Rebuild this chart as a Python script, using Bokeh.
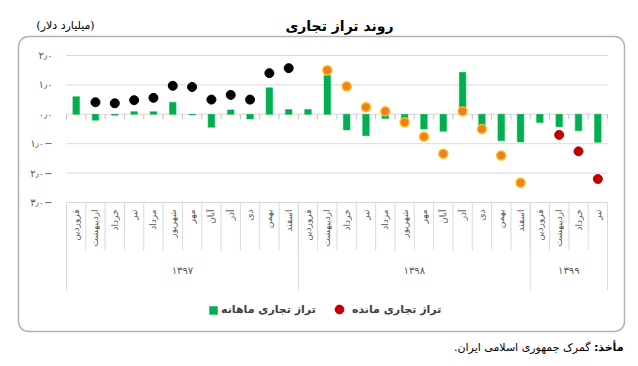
import math
from bokeh.plotting import figure
from bokeh.models import Range1d, BoxAnnotation, Legend, LegendItem
from bokeh.core.properties import value
from bokeh.embed import file_html
from bokeh.resources import INLINE

# ---------------- data ----------------
months = ["فروردین", "اردیبهشت", "خرداد", "تیر", "مرداد", "شهریور",
          "مهر", "آبان", "آذر", "دی", "بهمن", "اسفند"]
years = ["۱۳۹۷", "۱۳۹۸", "۱۳۹۹"]
year_counts = [12, 12, 4]

monthly_balance = [0.60, -0.20, -0.03, 0.09, 0.09, 0.41, -0.02, -0.44, 0.15, -0.16, 0.90, 0.16,
                   0.16, 1.32, -0.53, -0.73, -0.14, -0.20, -0.50, -0.58, 1.43, -0.42, -0.90, -0.94,
                   -0.28, -0.42, -0.56, -0.95]
cum_1397 = [None, 0.41, 0.375, 0.48, 0.56, 0.97, 0.93, 0.50, 0.66, 0.50, 1.40, 1.57]
cum_1398 = [None, 1.50, 0.95, 0.24, 0.10, -0.27, -0.76, -1.34, 0.10, -0.50, -1.40, -2.33]
cum_1399 = [None, -0.70, -1.26, -2.20]

y_ticks = [-3, -2, -1, 0, 1, 2]
y_tick_labels = ["\u200f−۳٫۰", "\u200f−۲٫۰", "\u200f−۱٫۰", "۰٫۰", "۱٫۰", "۲٫۰"]

title_text = "روند تراز تجاری"
unit_text = "(میلیارد دلار)"
legend_monthly = "تراز تجاری ماهانه"
legend_cum = "تراز تجاری مانده"
source_bold = "مأخذ:\u200f"
source_text = "گمرک جمهوری اسلامی ایران.\u200f"

FONT = "DejaVu Sans"
GRID = "#D9D9D9"
TXT = "#595959"

# ---------------- layout helpers (pixel -> data) ----------------
W, H = 638, 366
month_labels = []
for cnt in year_counts:
    month_labels += months[:cnt]
n = len(month_labels)
xs = list(range(1, n + 1))

PX_L, PX_R = 66, 607          # plot region left/right
PX_T, PX_B = 55, 202          # pixel rows of y = 2 and y = -3
ux = (PX_R - PX_L) / n
uy = (PX_B - PX_T) / (max(y_ticks) - min(y_ticks))

def X(px):
    return 0.5 + (px - PX_L) / ux

def Y(py):
    return max(y_ticks) - (py - PX_T) / uy

p = figure(width=W, height=H, output_backend="svg", toolbar_location=None,
           x_range=Range1d(X(0), X(W)), y_range=Range1d(Y(H), Y(0)),
           x_axis_location=None, y_axis_location=None,
           min_border=0, min_border_left=0, min_border_right=0,
           min_border_top=0, min_border_bottom=0)
p.title.visible = False
p.outline_line_color = None
p.xgrid.visible = False
p.ygrid.visible = False
p.background_fill_color = "white"
p.border_fill_color = "white"

# horizontal gridlines
p.segment(x0=[0.5] * len(y_ticks), x1=[n + 0.5] * len(y_ticks), y0=y_ticks, y1=y_ticks,
          line_color=GRID, line_width=1)
# y tick labels
p.text(x=[X(52)] * len(y_ticks), y=y_ticks, text=y_tick_labels, text_align="right",
       text_baseline="middle", text_font=value(FONT), text_font_size="10px", text_color=TXT)

# category boundaries
bounds = [i + 0.5 for i in range(n + 1)]
year_bounds = [0.5]
for cnt in year_counts:
    year_bounds.append(year_bounds[-1] + cnt)

# small ticks under zero line
p.segment(x0=bounds, y0=[0] * len(bounds), x1=bounds, y1=[Y(PX_T + 2 * uy + 5)] * len(bounds),
          line_color="#BFBFBF", line_width=1)
# month separators
p.segment(x0=bounds, y0=[min(y_ticks)] * len(bounds), x1=bounds, y1=[Y(250)] * len(bounds),
          line_color=GRID, line_width=1)
# year separators
p.segment(x0=year_bounds, y0=[min(y_ticks)] * len(year_bounds), x1=year_bounds,
          y1=[Y(290)] * len(year_bounds), line_color=GRID, line_width=1)

# month labels
p.text(x=xs, y=[Y(209)] * n, text=month_labels, angle=math.pi / 2,
       text_align="right", text_baseline="middle", text_font=value(FONT),
       text_font_size="9px", text_color=TXT)
# year labels
centers = [(year_bounds[i] + year_bounds[i + 1]) / 2 for i in range(len(years))]
p.text(x=centers, y=[Y(270)] * len(years), text=years, text_align="center",
       text_baseline="middle", text_font=value(FONT), text_font_size="10px", text_color=TXT)

bars = p.vbar(x=xs, top=monthly_balance, bottom=0, width=0.34,
              fill_color="#00B050", line_color="#00B050", line_alpha=0.5)

def nanify(vals):
    return [float("nan") if v is None else v for v in vals]

x97 = xs[0:12]
x98 = xs[12:24]
x99 = xs[24:28]
p.scatter(x=x97, y=nanify(cum_1397), size=9, fill_color="black", line_color="black")
p.scatter(x=x98, y=nanify(cum_1398), size=9, fill_color="#ED7D31", line_color="#FFC000", line_width=1.5)
red = p.scatter(x=x99, y=nanify(cum_1399), size=9, fill_color="#C00000", line_color="#C00000")

legend_style = dict(orientation="horizontal", border_line_color=None, background_fill_alpha=0,
                    padding=0, margin=0, label_text_font=FONT, label_text_font_size="11px",
                    label_text_font_style="bold", label_text_color="#404040")
legend1 = Legend(items=[LegendItem(label=legend_monthly, renderers=[bars])],
                 location=(208, H - 316), glyph_width=10, glyph_height=10,
                 label_standoff=3, **legend_style)
legend2 = Legend(items=[LegendItem(label=legend_cum, renderers=[red])],
                 location=(328, H - 320), glyph_width=22, glyph_height=22,
                 label_standoff=2, **legend_style)
p.add_layout(legend1)
p.add_layout(legend2)

# rounded frame
p.add_layout(BoxAnnotation(left=X(18), right=X(624), top=Y(36), bottom=Y(331),
                           fill_alpha=0, fill_color=None, line_color="black",
                           line_width=1.5, border_radius=10))

# title, unit, source
p.text(x=[X(339)], y=[Y(25)], text=[title_text], text_align="center", text_baseline="middle",
       text_font=value(FONT), text_font_size="14px", text_font_style="bold", text_color="black")
p.text(x=[X(65)], y=[Y(25)], text=[unit_text], text_align="center", text_baseline="middle",
       text_font=value(FONT), text_font_size="11px", text_color="black")
p.text(x=[X(623)], y=[Y(347)], text=[source_bold], text_align="right", text_baseline="middle",
       text_font=value(FONT), text_font_size="11px", text_font_style="bold", text_color="black")
p.text(x=[X(590)], y=[Y(347)], text=[source_text], text_align="right", text_baseline="middle",
       text_font=value(FONT), text_font_size="11px", text_color="black")

open("out.html", "w").write(file_html(p, INLINE))
